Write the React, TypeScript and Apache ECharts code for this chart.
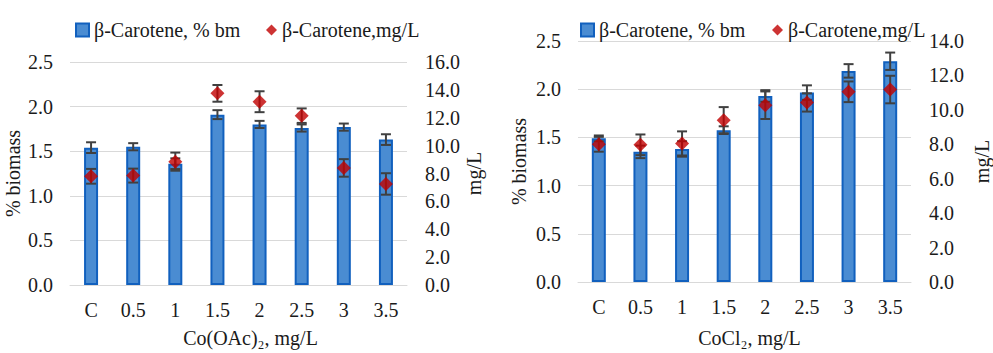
import React, { useEffect, useRef } from "react";
import * as echarts from "echarts";

const categories = ["C", "0.5", "1", "1.5", "2", "2.5", "3", "3.5"];

// Left chart: Co(OAc)2
const coOAcBm = [1.54, 1.55, 1.36, 1.91, 1.8, 1.76, 1.77, 1.63];
const coOAcBmErr = [0.06, 0.04, 0.06, 0.05, 0.04, 0.04, 0.04, 0.06];
const coOAcMgL = [7.8, 7.85, 8.85, 13.75, 13.15, 12.15, 8.4, 7.25];
const coOAcMgLErr = [0.53, 0.5, 0.65, 0.6, 0.75, 0.52, 0.63, 0.77];

// Right chart: CoCl2
const coCl2Bm = [1.49, 1.35, 1.38, 1.575, 1.93, 1.965, 2.19, 2.29];
const coCl2BmErr = [0.03, 0.065, 0.08, 0.04, 0.06, 0.075, 0.07, 0.09];
const coCl2MgL = [8.0, 7.97, 8.05, 9.4, 10.27, 10.43, 11.05, 11.18];
const coCl2MgLErr = [0.43, 0.6, 0.7, 0.76, 0.8, 0.53, 0.6, 0.8];

const barName = "β-Carotene, % bm";
const dotName = "β-Carotene,mg/L";

const FONT = "Liberation Serif";
const TXT = "#1a1a1a";
const GRID = "#d9d9d9";
const BAR_FILL = "#4A8CD2";
const BAR_EDGE = "#1160BE";
const RED = "#C00000";
const ERR = "#404040";

function errorRender(params: any, api: any) {
  const x = api.value(0);
  const y = api.value(1);
  const e = api.value(2);
  const top = api.coord([x, y + e]);
  const bot = api.coord([x, y - e]);
  const hw = 5;
  const style = { stroke: ERR, lineWidth: 2 };
  return {
    type: "group",
    children: [
      { type: "line", shape: { x1: top[0], y1: top[1], x2: bot[0], y2: bot[1] }, style },
      { type: "line", shape: { x1: top[0] - hw, y1: top[1], x2: top[0] + hw, y2: top[1] }, style },
      { type: "line", shape: { x1: bot[0] - hw, y1: bot[1], x2: bot[0] + hw, y2: bot[1] }, style },
    ],
  };
}

function errData(vals: number[], errs: number[]) {
  return vals.map((v, i) => [i, v, errs[i]]);
}

export default function App() {
  const ref = useRef<HTMLDivElement>(null);
  useEffect(() => {
    if (!ref.current) return;
    const chart = echarts.init(ref.current, null, { renderer: "svg" });
    const axisText = () => ({ fontFamily: FONT, fontSize: 20 });
    const mkX = (gridIndex: number, name: string, labelMargin: number, nameGap: number, namePad: number[]) => ({
      type: "category",
      gridIndex,
      data: categories,
      name,
      nameLocation: "middle",
      nameGap,
      nameTextStyle: { ...axisText(), padding: namePad },
      axisLine: { show: true, lineStyle: { color: GRID, width: 1 } },
      axisTick: { show: false },
      axisLabel: { ...axisText(), margin: labelMargin },
    });
    const mkYL = (gridIndex: number, nameGap: number) => ({
      type: "value",
      gridIndex,
      min: 0,
      max: 2.5,
      interval: 0.5,
      name: "% biomass",
      nameLocation: "middle",
      nameGap,
      nameTextStyle: axisText(),
      axisLine: { show: false },
      axisTick: { show: false },
      axisLabel: { ...axisText(), margin: 17, formatter: (v: number) => v.toFixed(1) },
      splitLine: { show: true, lineStyle: { color: GRID, width: 1 } },
    });
    const mkYR = (gridIndex: number, max: number, nameGap: number) => ({
      type: "value",
      gridIndex,
      position: "right",
      min: 0,
      max,
      interval: 2,
      name: "mg/L",
      nameLocation: "middle",
      nameGap,
      nameTextStyle: axisText(),
      axisLine: { show: false },
      axisTick: { show: false },
      axisLabel: { ...axisText(), margin: 18, formatter: (v: number) => v.toFixed(1) },
      splitLine: { show: false },
    });
    const barSeries = (xi: number, yi: number, data: number[]) => ({
      name: barName,
      type: "bar",
      xAxisIndex: xi,
      yAxisIndex: yi,
      data,
      barWidth: 14,
      itemStyle: { color: BAR_FILL, borderColor: BAR_EDGE, borderWidth: 2 },
      z: 2,
    });
    const errSeries = (xi: number, yi: number, vals: number[], errs: number[], z: number) => ({
      type: "custom",
      xAxisIndex: xi,
      yAxisIndex: yi,
      data: errData(vals, errs),
      encode: { x: 0, y: 1 },
      renderItem: errorRender,
      z,
      silent: true,
    });
    const dotSeries = (xi: number, yi: number, data: number[]) => ({
      name: dotName,
      type: "scatter",
      xAxisIndex: xi,
      yAxisIndex: yi,
      data,
      symbol: "diamond",
      symbolSize: 14,
      itemStyle: { color: RED },
      z: 4,
    });
    chart.setOption({
      animation: false,
      textStyle: { fontFamily: FONT, color: TXT },
      legend: [
        { data: [barName], left: 70, top: 15, icon: "rect", itemWidth: 13, itemHeight: 13, textStyle: axisText(), selectedMode: false },
        { data: [dotName], left: 261, top: 15, icon: "diamond", itemWidth: 11, itemHeight: 11, textStyle: axisText(), selectedMode: false },
        { data: [barName], left: 575, top: 15, icon: "rect", itemWidth: 13, itemHeight: 13, textStyle: axisText(), selectedMode: false },
        { data: [dotName], left: 767, top: 15, icon: "diamond", itemWidth: 11, itemHeight: 11, textStyle: axisText(), selectedMode: false },
      ],
      grid: [
        { left: 70, right: 586, top: 62, bottom: 63 },
        { left: 578, right: 76, top: 41, bottom: 66 },
      ],
      xAxis: [
        mkX(0, "Co(OAc)₂, mg/L", 15, 43, [0, 0, 0, 24]),
        mkX(1, "CoCl₂, mg/L", 15, 46, [0, 0, 0, 10]),
      ],
      yAxis: [mkYL(0, 47), mkYR(0, 16, 56), mkYL(1, 49), mkYR(1, 14, 61)],
      series: [
        barSeries(0, 0, coOAcBm),
        errSeries(0, 0, coOAcBm, coOAcBmErr, 3),
        errSeries(0, 1, coOAcMgL, coOAcMgLErr, 3),
        dotSeries(0, 1, coOAcMgL),
        barSeries(1, 2, coCl2Bm),
        errSeries(1, 2, coCl2Bm, coCl2BmErr, 3),
        errSeries(1, 3, coCl2MgL, coCl2MgLErr, 3),
        dotSeries(1, 3, coCl2MgL),
      ],
    });
    return () => chart.dispose();
  }, []);
  return (
    <>
      <style>{`#chart-root svg text { fill: ${TXT} !important; }`}</style>
      <div
        id="chart-root"
        ref={ref}
        style={{ position: "fixed", left: 0, top: 0, width: 993, height: 353, background: "#fff" }}
      />
    </>
  );
}
